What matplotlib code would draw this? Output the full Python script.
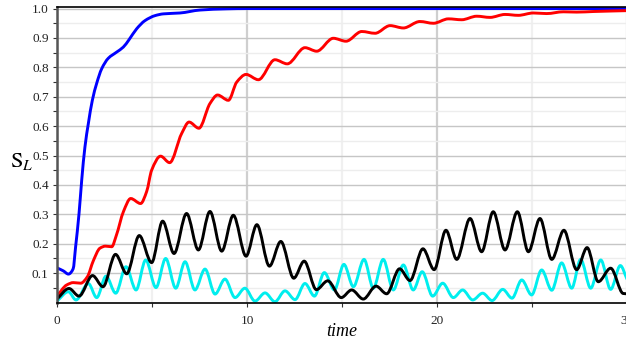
import numpy as np
import matplotlib
matplotlib.use('Agg')
import matplotlib.pyplot as plt
from matplotlib.path import Path
from matplotlib.patches import PathPatch
from matplotlib.transforms import blended_transform_factory

# values (time, S_L)
blue_t = [0, 0.33, 0.6, 0.85, 0.98, 1.16, 1.3, 1.47, 1.65, 1.86, 2.09, 2.35, 2.7, 3.14,
          3.49, 3.79, 4.19, 4.63, 5.16, 5.6, 6.47, 7.53, 8.93, 10, 15, 20, 25, 30]
blue_v = [0.118, 0.108, 0.097, 0.115, 0.19, 0.303, 0.416, 0.529, 0.609, 0.688, 0.746, 0.795,
          0.831, 0.852, 0.869, 0.894, 0.931, 0.959, 0.976, 0.982, 0.985, 0.995, 0.999, 1.0,
          1.0, 1.0, 1.0, 1.0]

red_t = [0, 0.51, 0.86, 1.25, 1.6, 1.91, 2.26, 2.55, 2.88, 3.12, 3.5, 3.88, 4.4, 4.72,
         4.98, 5.45, 5.93, 6.56, 6.95, 7.47, 8.05, 8.45, 9.02, 9.46, 9.95, 10.6, 11.47,
         12.12, 13.05, 13.67, 14.54, 15.21, 16.04, 16.74, 17.53, 18.23, 19.1, 19.81, 20.6,
         21.3, 22.09, 22.79, 23.58, 24.28, 25.07, 25.77, 26.65, 27.35, 28.23, 30]
red_v = [0.022, 0.06, 0.068, 0.066, 0.088, 0.142, 0.185, 0.192, 0.19, 0.228, 0.31, 0.354,
         0.337, 0.378, 0.45, 0.498, 0.476, 0.575, 0.614, 0.593, 0.677, 0.706, 0.688, 0.75,
         0.776, 0.758, 0.826, 0.812, 0.867, 0.855, 0.899, 0.889, 0.922, 0.916, 0.942,
         0.934, 0.956, 0.950, 0.965, 0.962, 0.974, 0.970, 0.980, 0.977, 0.985, 0.983,
         0.989, 0.988, 0.990, 0.993]

black_t = [0, 0.63, 1.16, 1.87, 2.42, 3.08, 3.67, 4.33, 4.98, 5.56, 6.16, 6.82, 7.44, 8.05,
           8.67, 9.28, 9.95, 10.52, 11.18, 11.78, 12.46, 13.01, 13.65, 14.25, 14.96, 15.51,
           16.12, 16.79, 17.35, 18.03, 18.58, 19.26, 19.85, 20.47, 21.04, 21.74, 22.35,
           22.96, 23.58, 24.23, 24.81, 25.42, 26.04, 26.68, 27.35, 27.9, 28.49, 29.14,
           29.8, 30]
black_v = [0.012, 0.048, 0.022, 0.092, 0.054, 0.164, 0.098, 0.228, 0.136, 0.277, 0.167,
           0.303, 0.179, 0.310, 0.175, 0.297, 0.158, 0.265, 0.124, 0.208, 0.083, 0.141,
           0.044, 0.074, 0.017, 0.043, 0.012, 0.056, 0.030, 0.115, 0.075, 0.183, 0.112,
           0.246, 0.147, 0.286, 0.173, 0.309, 0.179, 0.309, 0.173, 0.286, 0.147, 0.246,
           0.112, 0.187, 0.071, 0.117, 0.031, 0.03]

cyan_t = [0, 0.6, 1.0, 1.65, 2.09, 2.58, 3.09, 3.63, 4.16, 4.67, 5.21, 5.72, 6.25, 6.74,
          7.26, 7.79, 8.32, 8.84, 9.37, 9.89, 10.42, 10.95, 11.47, 12.0, 12.53, 13.05,
          13.55, 14.07, 14.6, 15.1, 15.6, 16.16, 16.65, 17.17, 17.7, 18.23, 18.75, 19.22,
          19.77, 20.3, 20.86, 21.35, 21.88, 22.4, 22.9, 23.46, 23.95, 24.46, 24.98, 25.51,
          26.04, 26.56, 27.09, 27.56, 28.09, 28.62, 29.14, 29.65, 30]
cyan_v = [0.005, 0.037, 0.009, 0.065, 0.017, 0.090, 0.032, 0.122, 0.043, 0.145, 0.051,
          0.150, 0.049, 0.139, 0.043, 0.114, 0.029, 0.080, 0.017, 0.049, 0.005, 0.033,
          0.003, 0.040, 0.010, 0.065, 0.022, 0.102, 0.043, 0.130, 0.054, 0.147, 0.049,
          0.147, 0.043, 0.128, 0.043, 0.105, 0.022, 0.066, 0.017, 0.043, 0.009, 0.032,
          0.007, 0.045, 0.015, 0.077, 0.026, 0.111, 0.042, 0.135, 0.049, 0.147, 0.049,
          0.145, 0.045, 0.126, 0.08]

x_ticks = [0, 10, 20, 30]
y_ticks = [0.1, 0.2, 0.3, 0.4, 0.5, 0.6, 0.7, 0.8, 0.9, 1.0]


def smooth_path(t, v):
    # monotone cubic curve through the read points, drawn as bezier segments
    t = np.asarray(t, float)
    v = np.asarray(v, float)
    h = np.diff(t)
    d = np.diff(v) / h
    m = np.zeros_like(v)
    m[0], m[-1] = d[0], d[-1]
    for i in range(1, len(v) - 1):
        if d[i - 1] * d[i] > 0:
            w1 = 2 * h[i] + h[i - 1]
            w2 = h[i] + 2 * h[i - 1]
            m[i] = (w1 + w2) / (w1 / d[i - 1] + w2 / d[i])
    verts = [(t[0], v[0])]
    codes = [Path.MOVETO]
    for i in range(len(h)):
        verts += [(t[i] + h[i] / 3, v[i] + m[i] * h[i] / 3),
                  (t[i + 1] - h[i] / 3, v[i + 1] - m[i + 1] * h[i] / 3),
                  (t[i + 1], v[i + 1])]
        codes += [Path.CURVE4] * 3
    return Path(verts, codes)


plt.rcParams['font.family'] = ['Liberation Serif', 'DejaVu Serif']
plt.rcParams['mathtext.fontset'] = 'stix'

fig = plt.figure(figsize=(6.26, 3.40), dpi=100)
ax = fig.add_axes([57 / 626, 37.4 / 340, 570 / 626, 295.5 / 340])
ax.set_xlim(0, 30)
ax.set_ylim(0, 1.005)

ax.set_xticks(x_ticks)
ax.set_xticklabels([str(x) for x in x_ticks])
ax.set_xticks([5, 15, 25], minor=True)
ax.set_yticks(y_ticks)
ax.set_yticklabels(['%.1f' % y for y in y_ticks])
ax.set_yticks(np.arange(0.05, 1.0, 0.1), minor=True)

ax.grid(which='major', axis='y', color='#c6c6c6', lw=1.0)
ax.grid(which='minor', axis='y', color='#ededed', lw=1.0)
ax.grid(which='major', axis='x', color='#cfcfcf', lw=1.6)
ax.grid(which='minor', axis='x', color='#f0f0f0', lw=1.6)
ax.set_axisbelow(True)

ax.tick_params(axis='both', which='both', direction='out', length=3, width=0.8,
               colors='#333333', labelsize=9.5, labelcolor='#222222')
ax.tick_params(axis='x', pad=6)
ax.tick_params(axis='y', pad=3)

for name in ['top', 'bottom']:
    ax.spines[name].set_color('black')
    ax.spines[name].set_linewidth(1.2)
ax.spines['left'].set_color('#555555')
ax.spines['left'].set_linewidth(1.8)
ax.spines['right'].set_visible(False)

for t, v, c in [(blue_t, blue_v, '#0000ff'), (red_t, red_v, '#ff0000'),
                (cyan_t, cyan_v, '#00eeee'), (black_t, black_v, 'black')]:
    ax.add_patch(PathPatch(smooth_path(t, v), fill=False, edgecolor=c, lw=2.1,
                           capstyle='round', joinstyle='round'))

fig.text(342 / 626, 1 - 331 / 340, 'time', style='italic', fontsize=13,
         ha='center', va='center')
fig.text(22 / 626, 1 - 162 / 340, r'$\mathrm{S}_{L}$', fontsize=16,
         ha='center', va='center')

fig.savefig('out.png', dpi=100)
